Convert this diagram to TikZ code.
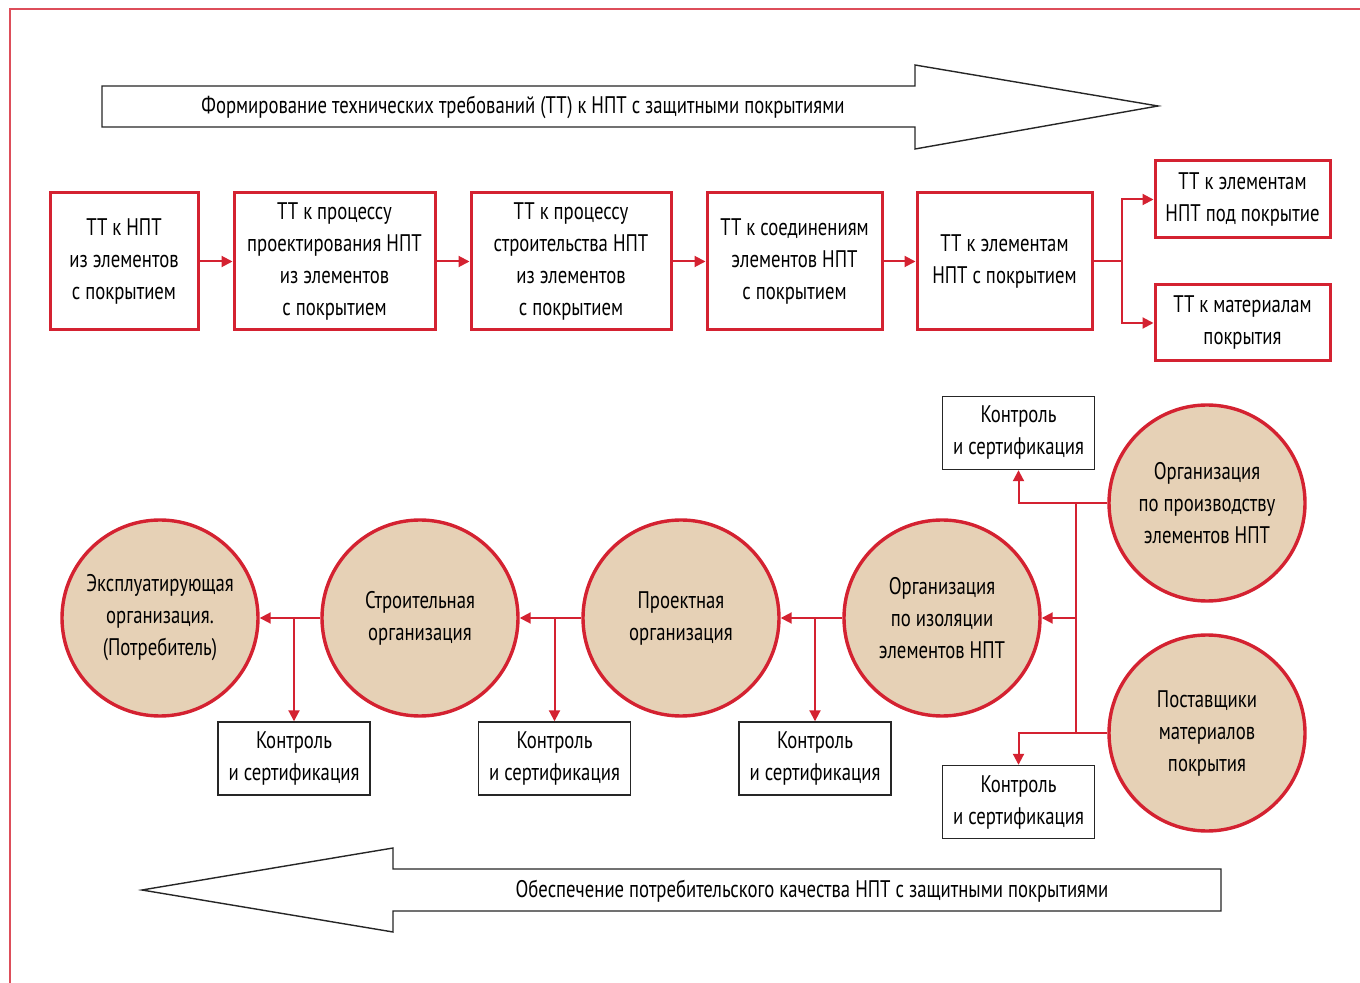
\documentclass[tikz,border=0pt]{standalone}
\usepackage{fontspec}
\setmainfont[FakeStretch=0.78]{PT Sans}
\usetikzlibrary{arrows.meta}
\definecolor{npred}{HTML}{D42231}
\definecolor{nptan}{HTML}{E6D1B6}
\tikzset{
  ttbox/.style={draw=npred, line width=1.5pt, fill=white, align=center, inner sep=0pt},
  ctrlbox/.style={draw=black!85, line width=0.7pt, fill=white, align=center, inner sep=0pt,
    minimum width=76pt, minimum height=36.5pt},
  orgcircle/.style={circle, draw=npred, line width=1.7pt, fill=nptan, align=center,
    inner sep=0pt, minimum size=98pt},
  link/.style={draw=npred, line width=1pt, -{Triangle[length=5.5pt,width=5.5pt]}},
  wire/.style={draw=npred, line width=1pt},
  bigarrow/.style={draw=black!85, line width=0.7pt, fill=white},
}
\begin{document}
\begin{tikzpicture}[x=0.5pt,y=-0.5pt,font=\fontsize{12}{16}\selectfont]
\useasboundingbox (0,0) rectangle (1360,983);
\draw[npred!80, line width=0.7pt] (1360,9) -- (10,9) -- (10,983);

% upper arrow
\draw[bigarrow] (102,86) -- (915,86) -- (915,65) -- (1158,106) -- (915,149) -- (915,127) -- (102,127) -- cycle;
\node (toptext) at (523,107) {Формирование технических требований (ТТ) к НПТ с защитными покрытиями};

% requirements
\node[ttbox, minimum width=74pt, minimum height=68.5pt] (b1) at (124,261.5) {ТТ к НПТ\\из элементов\\с покрытием};
\node[ttbox, minimum width=100.5pt, minimum height=68.5pt] (b2) at (334.5,261.5) {ТТ к процессу\\проектирования НПТ\\из элементов\\с покрытием};
\node[ttbox, minimum width=100pt, minimum height=68.5pt] (b3) at (571,261.5) {ТТ к процессу\\строительства НПТ\\из элементов\\с покрытием};
\node[ttbox, minimum width=87.5pt, minimum height=68.5pt] (b4) at (794.5,261.5) {ТТ к соединениям\\элементов НПТ\\с покрытием};
\node[ttbox, minimum width=87.5pt, minimum height=68.5pt] (b5) at (1004.5,261.5) {ТТ к элементам\\НПТ с покрытием};
\node[ttbox, minimum width=87.5pt, minimum height=38.5pt] (b6) at (1242.5,199.5) {ТТ к элементам\\НПТ под покрытие};
\node[ttbox, minimum width=87.5pt, minimum height=38pt] (b7) at (1242.5,323) {ТТ к материалам\\покрытия};

\draw[link] (b1) -- (b2);
\draw[link] (b2) -- (b3);
\draw[link] (b3) -- (b4);
\draw[link] (b4) -- (b5);
\draw[wire] (b5.east) -- ++(28,0) coordinate (split);
\draw[link] (split) |- (b6.west);
\draw[link] (split) |- (b7.west);

% organisations
\node[orgcircle] (c1) at (160,618) {Эксплуатирующая\\организация.\\(Потребитель)};
\node[orgcircle] (c2) at (420,618) {Строительная\\организация};
\node[orgcircle] (c3) at (681,618) {Проектная\\организация};
\node[orgcircle] (c4) at (942,618) {Организация\\по изоляции\\элементов НПТ};
\node[orgcircle] (c5) at (1207,503) {Организация\\по производству\\элементов НПТ};
\node[orgcircle] (c6) at (1207,733) {Поставщики\\материалов\\покрытия};

\node[ctrlbox] (k1) at (294,758.5) {Контроль\\и сертификация};
\node[ctrlbox] (k2) at (554.5,758.5) {Контроль\\и сертификация};
\node[ctrlbox] (k3) at (815,758.5) {Контроль\\и сертификация};
\node[ctrlbox] (k4) at (1018.5,433) {Контроль\\и сертификация};
\node[ctrlbox] (k5) at (1018.5,802) {Контроль\\и сертификация};

\draw[link] (c2) -- (c1);
\draw[link] (k1.north |- c1.east) -- (k1.north);
\draw[link] (c3) -- (c2);
\draw[link] (k2.north |- c2.east) -- (k2.north);
\draw[link] (c4) -- (c3);
\draw[link] (k3.north |- c3.east) -- (k3.north);

\coordinate (hub) at (1076,618);
\draw[wire] (c5.west) -- (c5.west -| hub) -- (c6.west -| hub) -- (c6.west);
\draw[link] (hub) -- (c4.east);
\draw[link] (c5.west -| hub) -| (k4.south);
\draw[link] (c6.west -| hub) -| (k5.north);

% lower arrow
\draw[bigarrow] (1221,869) -- (393,869) -- (393,848) -- (142,890) -- (393,932) -- (393,911) -- (1221,911) -- cycle;
\node (bottext) at (812,891) {Обеспечение потребительского качества НПТ с защитными покрытиями};
\end{tikzpicture}
\end{document}
